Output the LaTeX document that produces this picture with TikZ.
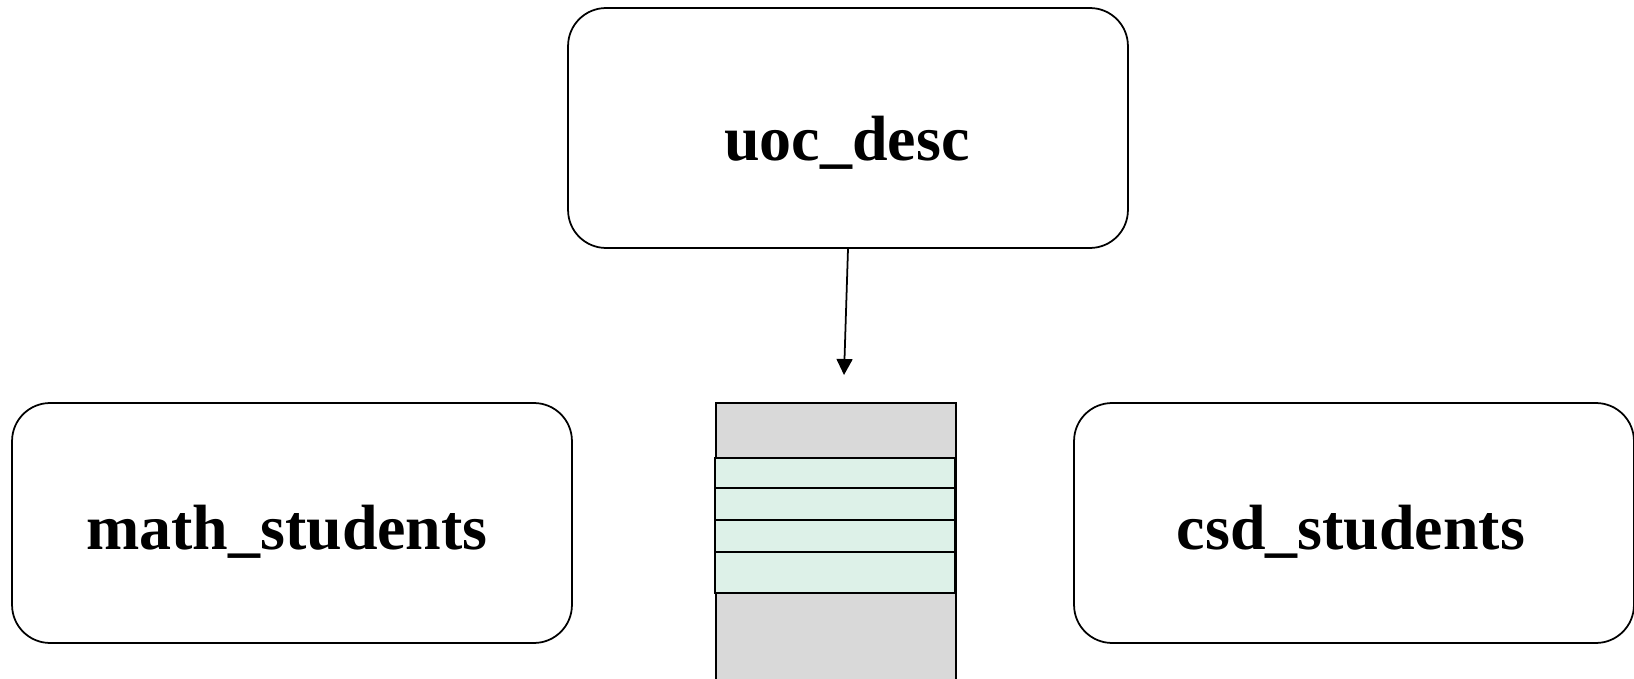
\documentclass[tikz,border=0pt]{standalone}
\usepackage{fontspec}
\setmainfont{Liberation Serif}
\usetikzlibrary{arrows.meta}
\definecolor{stackgray}{HTML}{D9D9D9}
\definecolor{slotgreen}{HTML}{DDF1E8}

\begin{document}
\begin{tikzpicture}[x=0.02cm, y=-0.02cm,
    tablebox/.style={draw, line width=1pt, rounded corners=0.76cm,
        minimum width=11.2cm, minimum height=4.8cm, inner sep=0pt},
    tablename/.style={anchor=base, inner sep=0pt,
        font=\bfseries\fontsize{36.4pt}{40pt}\selectfont},
    slot/.style={draw, line width=1pt, fill=slotgreen}]
    \useasboundingbox (0,0) rectangle (1634,679);
    % the three tables
    \node[tablebox] (desc) at (848,128) {};
    \node[tablebox] (math) at (292,523) {};
    \node[tablebox] (csd) at (1354,523) {};
    \node[tablename] (desc text) at (847,161) {uoc\_desc};
    \node[tablename] (math text) at (287,549) {math\_students};
    \node[tablename] (csd text) at (1351,549) {csd\_students};
    % stack of records in the middle
    \filldraw[line width=1pt, fill=stackgray] (715.7,403) rectangle (956,700);
    \foreach \top/\bottom in {457.7/487.7, 487.7/519.7, 519.7/551.7, 551.7/592.7}
        \filldraw[slot] (714.7,\top) rectangle (954.7,\bottom);
    \coordinate (entry) at (844,375);
    \draw[line width=1pt, -{Triangle[width=0.32cm, length=0.32cm]}] (desc.south) -- (entry);
\end{tikzpicture}
\end{document}
